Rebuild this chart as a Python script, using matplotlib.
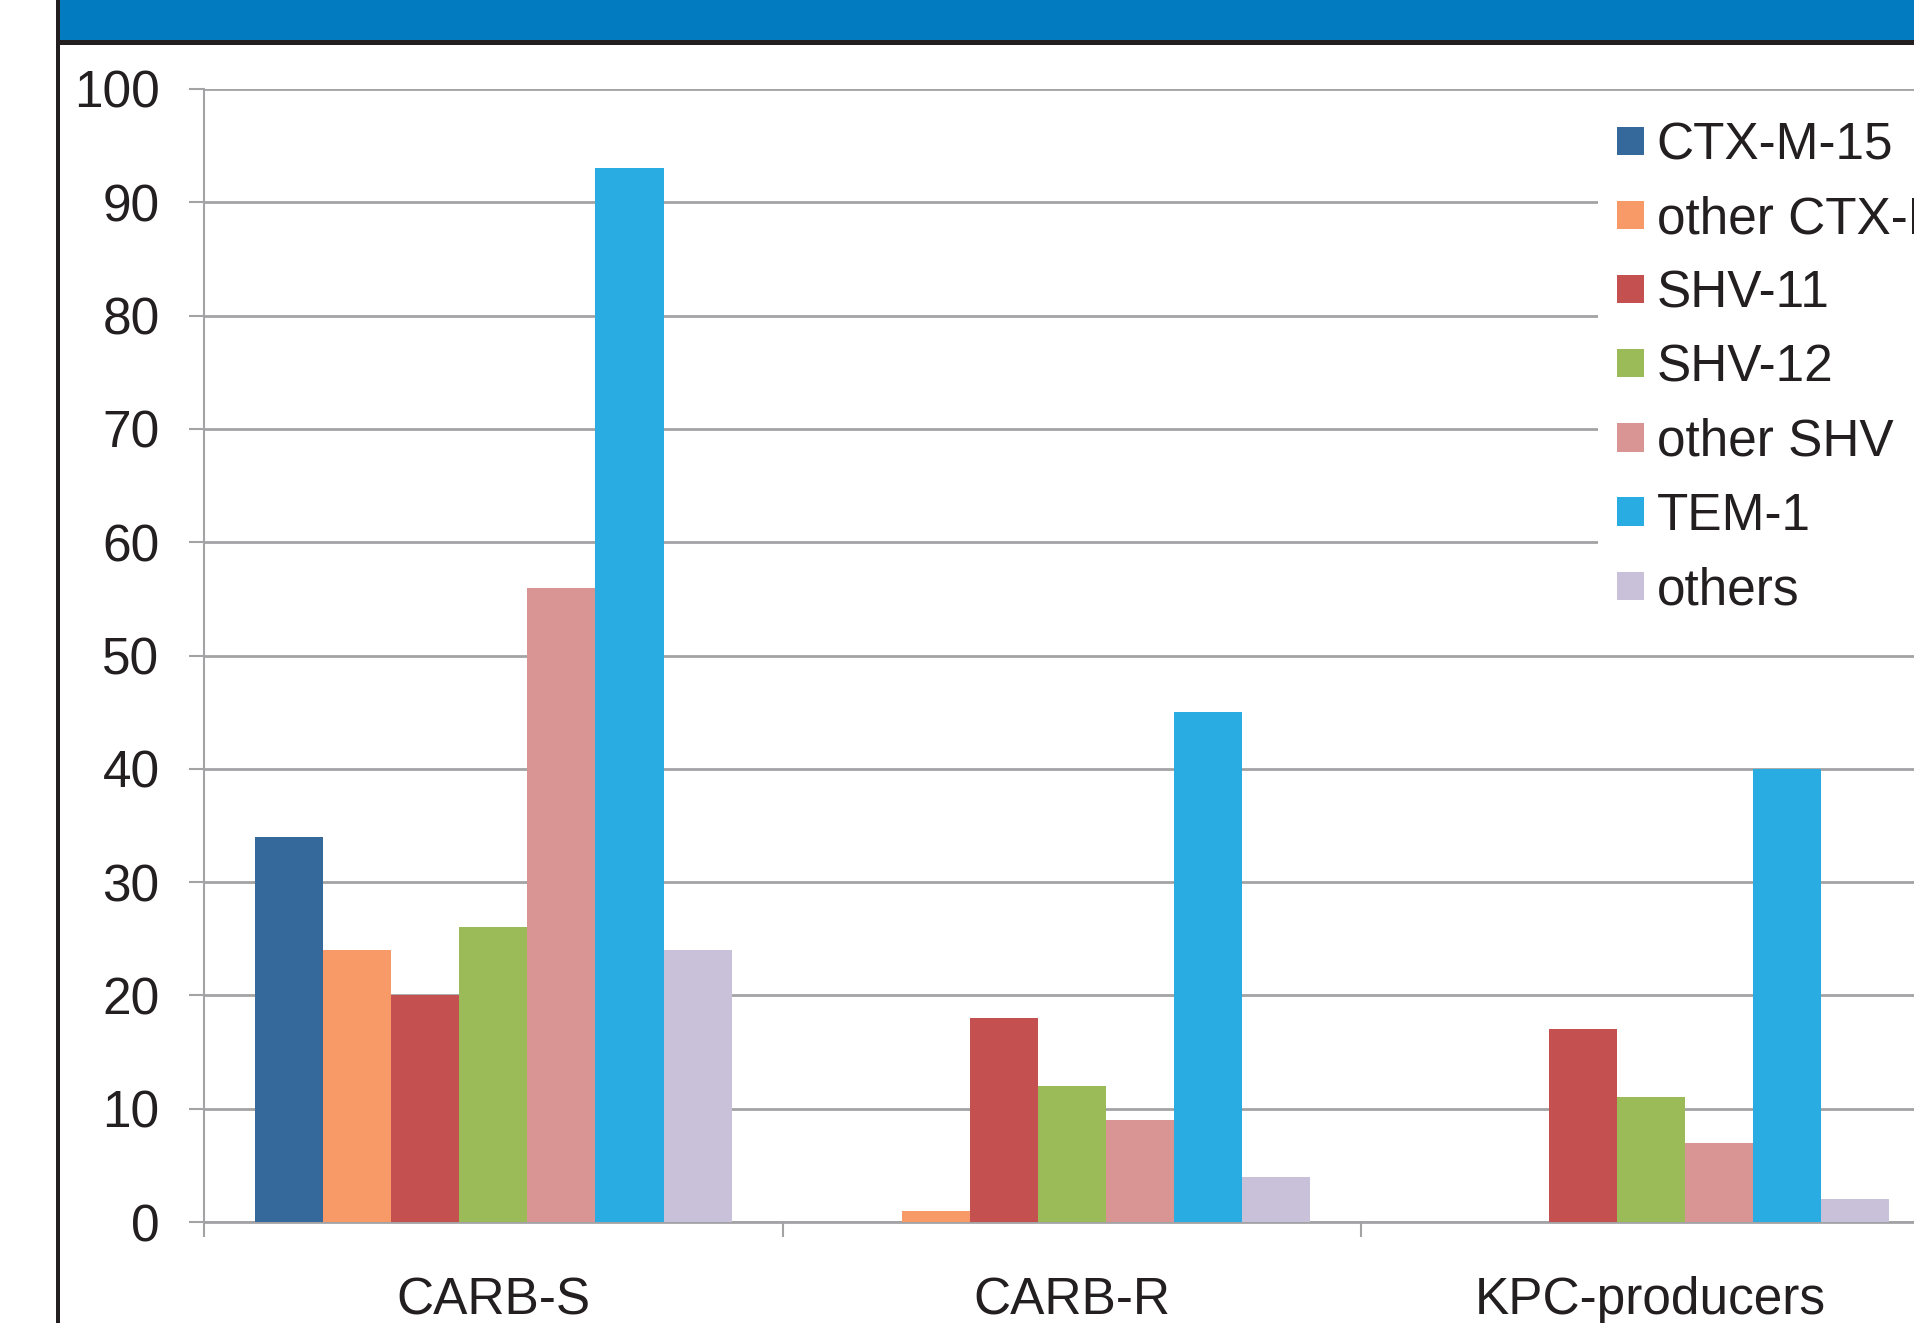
import numpy as np
import matplotlib.pyplot as plt
from matplotlib.patches import Rectangle

plt.rcParams['font.family'] = ['Liberation Sans', 'DejaVu Sans']

categories = ['CARB-S', 'CARB-R', 'KPC-producers']
series = ['CTX-M-15', 'other CTX-M', 'SHV-11', 'SHV-12', 'other SHV', 'TEM-1', 'others']
ctx_m_15 = [34, 0, 0]
other_ctx_m = [24, 1, 0]
shv_11 = [20, 18, 17]
shv_12 = [26, 12, 11]
other_shv = [56, 9, 7]
tem_1 = [93, 45, 40]
others = [24, 4, 2]
y_ticks = [0, 10, 20, 30, 40, 50, 60, 70, 80, 90, 100]

values = [ctx_m_15, other_ctx_m, shv_11, shv_12, other_shv, tem_1, others]
colors = ['#36699b', '#f79a68', '#c4504f', '#9bbb59', '#d99594', '#29ace2', '#c9c0da']

W, H = 1914, 1323
fig = plt.figure(figsize=(W / 100, H / 100), dpi=100)
txt = '#231f20'
grid_c = '#a3a3a6'
fs = 37

# frame pieces from the page: blue banner, black rule, black left border
fig.patches.append(Rectangle((60 / W, 1 - 40 / H), 1, 40 / H, transform=fig.transFigure,
                             facecolor='#027bc1', edgecolor='none', zorder=0))
fig.patches.append(Rectangle((56 / W, 1 - 45 / H), 1, 5 / H, transform=fig.transFigure,
                             facecolor='#231f20', edgecolor='none', zorder=0))
fig.patches.append(Rectangle((56 / W, 0), 4 / W, 1, transform=fig.transFigure,
                             facecolor='#231f20', edgecolor='none', zorder=0))

ax = fig.add_axes([204 / W, 101 / H, 1736 / W, 1133 / H])
ax.set_facecolor('none')

x = np.arange(len(categories))
bw = 1 / 8.5
for i, (vals, col) in enumerate(zip(values, colors)):
    ax.bar(x + (i - 3) * bw, vals, width=bw, color=col, label=series[i], zorder=3)

ax.set_xlim(-0.5, 2.5)
ax.set_ylim(0, 100)
ax.set_yticks(y_ticks)
ax.set_yticklabels([str(t) for t in y_ticks])
ax.yaxis.grid(True, color=grid_c, linewidth=2, zorder=0)
ax.set_axisbelow(True)

ax.set_xticks([-0.5, 0.5, 1.5, 2.5])
ax.set_xticklabels([])
ax.set_xticks(x, minor=True)
ax.set_xticklabels(categories, minor=True)
ax.tick_params(axis='x', which='major', length=10.5, width=1.5, color=grid_c)
ax.tick_params(axis='x', which='minor', length=0, pad=39, labelsize=fs, labelcolor=txt)
ax.tick_params(axis='y', length=11, width=1.5, color=grid_c, pad=21, labelsize=fs, labelcolor=txt)

for s in ['top', 'right']:
    ax.spines[s].set_visible(False)
ax.spines['left'].set_color(grid_c)
ax.spines['left'].set_linewidth(1.5)
ax.spines['bottom'].set_color(grid_c)
ax.spines['bottom'].set_linewidth(2)

leg = ax.legend(loc='upper left', bbox_to_anchor=(1598 / W, 1 - 102 / H),
                bbox_transform=fig.transFigure, borderaxespad=0, fontsize=fs,
                frameon=True, facecolor='white', edgecolor='none', framealpha=1,
                borderpad=0.37, handlelength=0.53, handleheight=0.47,
                handletextpad=0.24, labelspacing=0.49, fancybox=False)
for t in leg.get_texts():
    t.set_color(txt)

fig.savefig('out.png', dpi=100)
